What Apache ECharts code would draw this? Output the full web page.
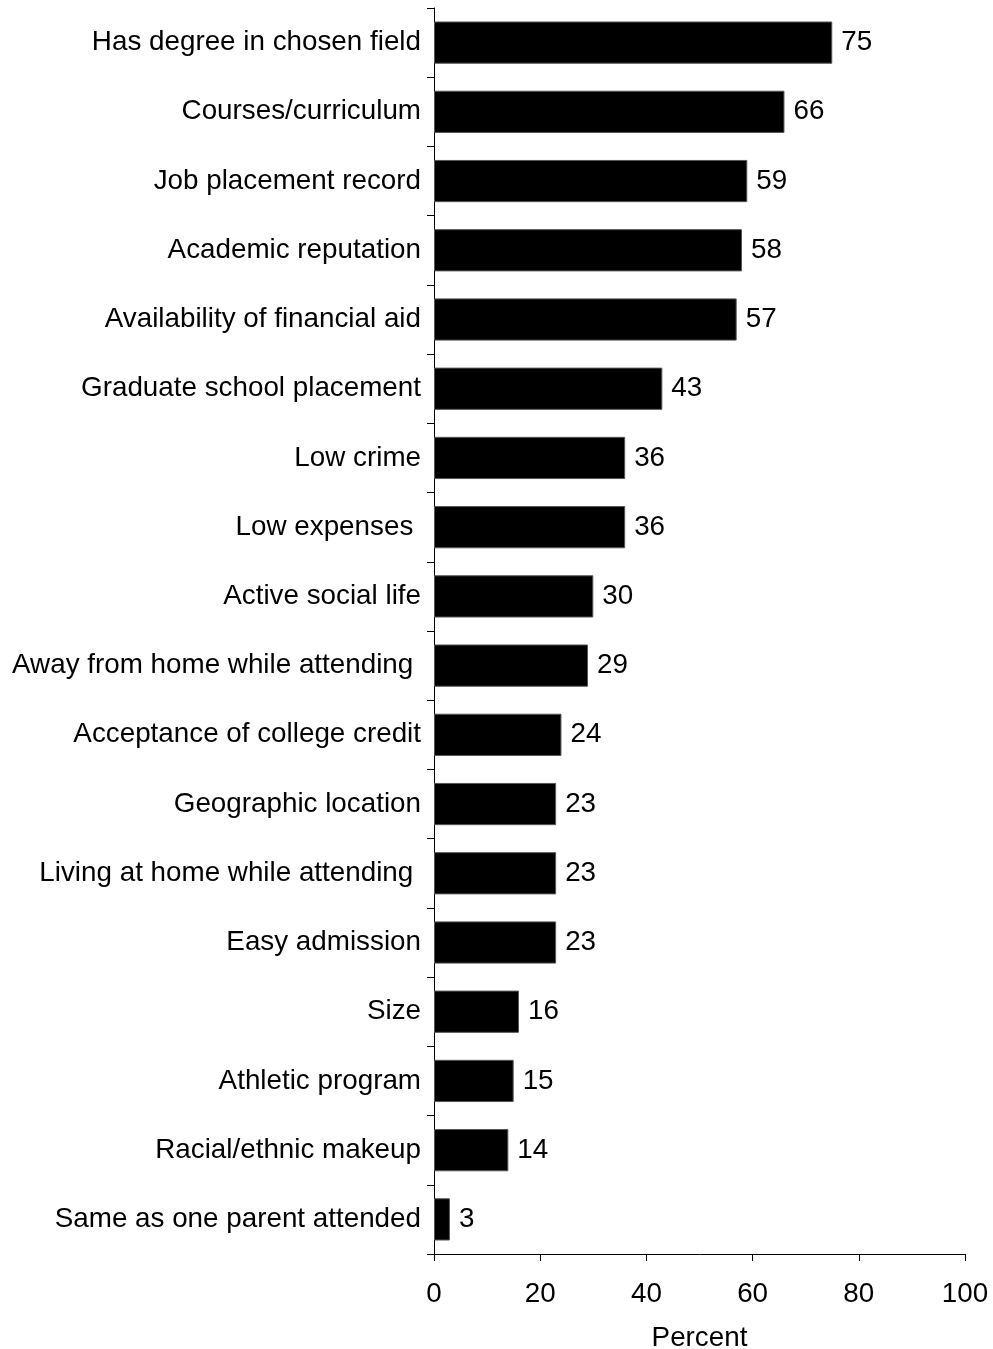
<!DOCTYPE html>
<html>
<head>
<meta charset="utf-8">
<script src="https://cdn.jsdelivr.net/npm/echarts@6/dist/echarts.min.js"></script>
<style>html,body{margin:0;padding:0;background:#fff;}#c{width:993px;height:1349px;}</style>
</head>
<body>
<div id="c"></div>
<script>
const categories = [
  "Has degree in chosen field",
  "Courses/curriculum",
  "Job placement record",
  "Academic reputation",
  "Availability of financial aid",
  "Graduate school placement",
  "Low crime",
  "Low expenses ",
  "Active social life",
  "Away from home while attending ",
  "Acceptance of college credit",
  "Geographic location",
  "Living at home while attending ",
  "Easy admission",
  "Size",
  "Athletic program",
  "Racial/ethnic makeup",
  "Same as one parent attended"
];
const values = [75, 66, 59, 58, 57, 43, 36, 36, 30, 29, 24, 23, 23, 23, 16, 15, 14, 3];
const xTicks = [0, 20, 40, 60, 80, 100];

const font = "Liberation Sans, Arial, sans-serif";
const fs = 27.8;
const chart = echarts.init(document.getElementById('c'), null, {renderer: 'canvas'});
chart.setOption({
  animation: false,
  backgroundColor: '#fff',
  grid: {left: 434, right: 28, top: 8, bottom: 95, containLabel: false, outerBoundsMode: 'none'},
  xAxis: {
    type: 'value', min: xTicks[0], max: xTicks[xTicks.length - 1], interval: 20,
    name: 'Percent', nameLocation: 'middle', nameGap: 70,
    nameTextStyle: {fontFamily: font, fontSize: fs, color: '#000'},
    axisLine: {show: true, lineStyle: {color: '#000', width: 1}},
    axisTick: {show: true, length: 7, lineStyle: {color: '#000'}},
    axisLabel: {fontFamily: font, fontSize: fs, color: '#000', margin: 26},
    splitLine: {show: false}
  },
  yAxis: {
    type: 'category', data: categories, inverse: true,
    axisLine: {show: true, lineStyle: {color: '#000', width: 1}},
    axisTick: {show: true, length: 7, lineStyle: {color: '#000'}},
    axisLabel: {fontFamily: font, fontSize: fs, color: '#000', margin: 13, padding: [4, 0, 0, 0]}
  },
  series: [{
    type: 'bar', data: values, barCategoryGap: '39%',
    itemStyle: {color: '#000', borderColor: '#555', borderWidth: 1},
    label: {show: true, position: 'right', distance: 9, fontFamily: font, fontSize: fs, color: '#000', padding: [4, 0, 0, 0]}
  }]
});
</script>
</body>
</html>
